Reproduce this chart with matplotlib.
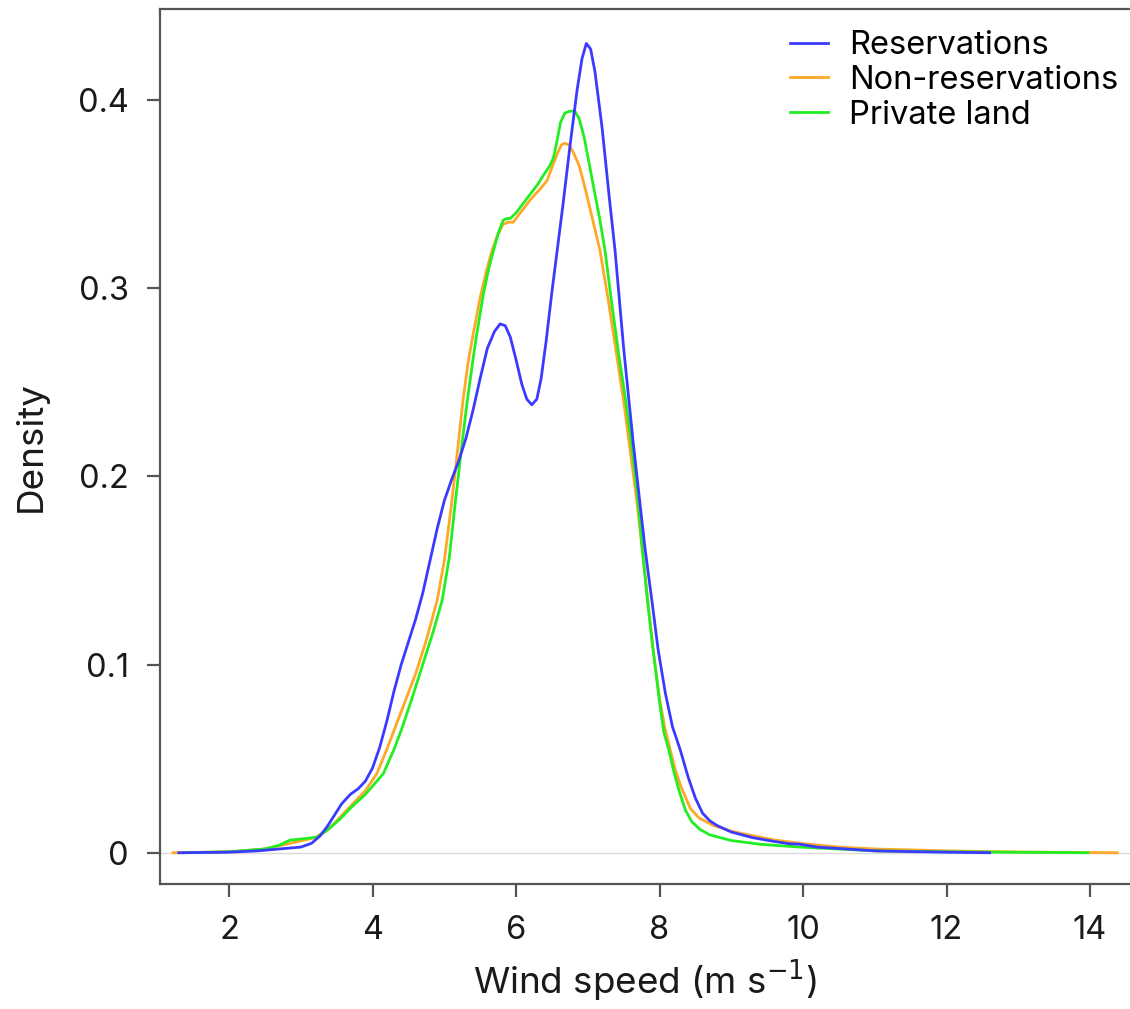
import numpy as np
import matplotlib
matplotlib.use("Agg")
import matplotlib.pyplot as plt

# density curves (wind speed in m/s, density)
res_x = [1.3, 2.0, 2.4, 2.7, 2.85, 3.0, 3.15, 3.27, 3.37, 3.47, 3.57, 3.69, 3.8, 3.9, 4.0,
         4.1, 4.2, 4.3, 4.4, 4.5, 4.6, 4.7, 4.8, 4.9, 5.0, 5.1, 5.2, 5.3, 5.4, 5.5, 5.6,
         5.7, 5.78, 5.85, 5.92, 6.0, 6.08, 6.15, 6.22, 6.29, 6.35, 6.42, 6.5, 6.58, 6.65,
         6.75, 6.85, 6.92, 6.98, 7.04, 7.1, 7.2, 7.3, 7.38, 7.5, 7.63, 7.72, 7.8, 7.9,
         7.98, 8.08, 8.18, 8.29, 8.4, 8.5, 8.6, 8.7, 8.8, 9.0, 9.3, 9.6, 9.8, 9.96, 10.2,
         10.6, 11.0, 11.5, 12.0, 12.6]
res_y = [0.0, 0.0003, 0.001, 0.002, 0.0025, 0.003, 0.005, 0.009, 0.014, 0.02, 0.026, 0.031,
         0.034, 0.038, 0.045, 0.056, 0.07, 0.086, 0.1, 0.112, 0.124, 0.138, 0.155, 0.172,
         0.187, 0.198, 0.208, 0.22, 0.235, 0.252, 0.268, 0.277, 0.281, 0.28, 0.274, 0.262,
         0.249, 0.241, 0.238, 0.241, 0.252, 0.272, 0.298, 0.322, 0.343, 0.375, 0.405, 0.422,
         0.430, 0.427, 0.415, 0.385, 0.348, 0.32, 0.268, 0.219, 0.188, 0.161, 0.132, 0.108,
         0.085, 0.067, 0.0545, 0.04, 0.029, 0.021, 0.017, 0.0145, 0.011, 0.008, 0.006,
         0.0048, 0.0045, 0.003, 0.002, 0.001, 0.0006, 0.0003, 0.0]

nonres_x = [1.22, 2.0, 2.5, 2.85, 3.2, 3.4, 3.7, 3.9, 4.06, 4.2, 4.3, 4.45, 4.6, 4.75,
            4.9, 5.0, 5.1, 5.18, 5.26, 5.33, 5.4, 5.5, 5.58, 5.65, 5.73, 5.82, 5.9, 5.96,
            6.06, 6.2, 6.32, 6.43, 6.5, 6.57, 6.63, 6.68, 6.74, 6.8, 6.88, 6.95, 7.07, 7.17,
            7.28, 7.4, 7.5, 7.59, 7.68, 7.76, 7.84, 7.91, 8.0, 8.07, 8.15, 8.22, 8.3, 8.43,
            8.55, 8.75, 9.0, 9.2, 9.6, 9.96, 10.5, 11.0, 12.0, 13.0, 14.38]
nonres_y = [0.0, 0.0005, 0.002, 0.005, 0.008, 0.013, 0.025, 0.033, 0.042, 0.055, 0.065,
            0.08, 0.095, 0.113, 0.134, 0.155, 0.185, 0.212, 0.240, 0.26, 0.275, 0.295,
            0.308, 0.318, 0.327, 0.334, 0.335, 0.335, 0.340, 0.347, 0.352, 0.357, 0.364,
            0.371, 0.376, 0.377, 0.376, 0.372, 0.365, 0.355, 0.336, 0.320, 0.295, 0.265,
            0.24, 0.214, 0.188, 0.161, 0.133, 0.108, 0.082, 0.067, 0.0545, 0.044, 0.035,
            0.0235, 0.0185, 0.0145, 0.0115, 0.0098, 0.0068, 0.005, 0.003, 0.002, 0.001,
            0.0004, 0.0]

priv_x = [1.36, 2.0, 2.5, 2.7, 2.85, 3.05, 3.23, 3.37, 3.55, 3.7, 3.9, 4.15, 4.3, 4.4,
          4.55, 4.7, 4.85, 4.97, 5.07, 5.15, 5.24, 5.32, 5.4, 5.45, 5.55, 5.63, 5.7, 5.76,
          5.82, 5.87, 5.92, 6.0, 6.06, 6.2, 6.3, 6.4, 6.47, 6.52, 6.57, 6.62, 6.68, 6.75,
          6.82, 6.88, 6.95, 7.05, 7.17, 7.24, 7.33, 7.43, 7.53, 7.62, 7.7, 7.76, 7.84,
          7.91, 8.0, 8.06, 8.13, 8.2, 8.28, 8.36, 8.45, 8.56, 8.7, 9.0, 9.4, 9.96, 11.0,
          12.0, 13.97]
priv_y = [0.0, 0.0005, 0.002, 0.004, 0.0067, 0.0075, 0.0083, 0.012, 0.018, 0.024, 0.031,
          0.042, 0.055, 0.065, 0.082, 0.1, 0.118, 0.134, 0.157, 0.185, 0.215, 0.240, 0.262,
          0.275, 0.298, 0.312, 0.322, 0.33, 0.336, 0.337, 0.337, 0.34, 0.343, 0.350, 0.355,
          0.361, 0.365, 0.369, 0.378, 0.388, 0.393, 0.394, 0.394, 0.39, 0.38, 0.36, 0.336,
          0.320, 0.293, 0.265, 0.24, 0.214, 0.187, 0.161, 0.131, 0.108, 0.08, 0.064,
          0.0545, 0.043, 0.032, 0.0227, 0.0165, 0.0125, 0.0095, 0.0065, 0.0045, 0.003,
          0.001, 0.0005, 0.0]

labels = ["Reservations", "Non-reservations", "Private land"]
x_ticks = [2, 4, 6, 8, 10, 12, 14]
y_ticks = [0, 0.1, 0.2, 0.3, 0.4]
y_ticklabels = ["0", "0.1", "0.2", "0.3", "0.4"]

plt.rcParams["font.family"] = ["Inter", "DejaVu Sans"]

fig = plt.figure(figsize=(11.3, 10.09), dpi=100)
ax = fig.add_axes([0.1416, 0.1239, 0.8584, 0.8672])

ax.axhline(0, color="#d9d9d9", lw=1.0, zorder=1)
ax.plot(res_x, res_y, color="#3b3bff", lw=2.0, label=labels[0], zorder=3)
ax.plot(nonres_x, nonres_y, color="#ffa726", lw=2.0, label=labels[1], zorder=2)
ax.plot(priv_x, priv_y, color="#22ee22", lw=2.0, label=labels[2], zorder=2.5)

ax.set_xlim(1.038, 14.557)
ax.set_ylim(-0.0166, 0.4483)
ax.set_xticks(x_ticks)
ax.set_yticks(y_ticks)
ax.set_yticklabels(y_ticklabels)

for side in ["left", "bottom", "top"]:
    ax.spines[side].set_color("#555555")
    ax.spines[side].set_linewidth(1.6)
ax.spines["right"].set_visible(False)
ax.tick_params(axis="both", colors="#555555", length=9.5, width=1.6,
               labelsize=23.5, labelcolor="#1a1a1a", pad=13)

ax.set_xlabel("Wind speed (m s$^{-1}$)", fontsize=26.5, color="#1a1a1a", labelpad=8)
ax.set_ylabel("Density", fontsize=26.5, color="#1a1a1a", labelpad=22)

fig.legend(loc="upper left", bbox_to_anchor=(790 / 1130, 1 - 30 / 1009),
           frameon=False, fontsize=23.5, handlelength=1.15, handletextpad=0.65,
           labelspacing=0.12, borderpad=0, borderaxespad=0)

fig.savefig("out.png", dpi=100)
plt.close(fig)
